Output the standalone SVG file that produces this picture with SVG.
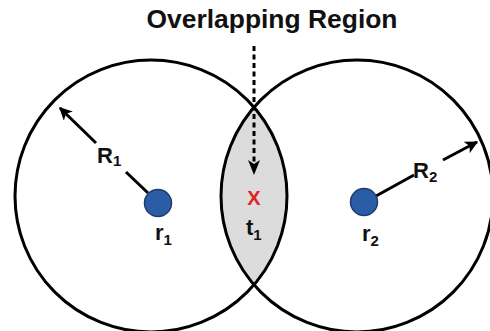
<svg xmlns="http://www.w3.org/2000/svg" width="490" height="331" viewBox="0 0 490 331">
  <style>
    .circ { fill: none; stroke: #000; stroke-width: 3; }
    .lbl { font-family: "Liberation Sans", Arial, sans-serif; font-weight: bold; font-size: 22px; fill: #111; }
    .sub { font-size: 15px; }
    .dot { fill: #2b5ca6; stroke: #1d3c6b; stroke-width: 1.5; }
    .ln { stroke: #000; stroke-width: 3; fill: none; }
  </style>
  <defs>
    <marker id="ah" viewBox="0 0 10 10" refX="9" refY="5" markerWidth="4.3" markerHeight="4.3" orient="auto" markerUnits="strokeWidth">
      <path d="M0,0 L10,5 L0,10 L2.5,5 Z" fill="#000"/>
    </marker>
  </defs>
  <rect width="490" height="331" fill="#fff"/>
  <g id="overlap">
    <path d="M254,107.2 A136,136 0 0 1 254,284.8 A136,136 0 0 1 254,107.2 Z" fill="#dcdcdc"/>
  </g>
  <g id="circle1"><circle class="circ" cx="151" cy="196" r="136"/></g>
  <g id="circle2"><circle class="circ" cx="357" cy="196" r="136"/></g>
  <g id="title"><text class="lbl" x="272" y="28" text-anchor="middle" style="font-size:25px" textLength="251" lengthAdjust="spacingAndGlyphs">Overlapping Region</text></g>
  <g id="connectors">
    <path class="ln" d="M254,46 L254,170" stroke-dasharray="5,3.5"/>
    <path d="M248,160 L254,175 L260,160 L254,164 Z" fill="#000"/>
    <path class="ln" d="M148,193 L126,172"/>
    <path class="ln" d="M96,143 L60,108" marker-end="url(#ah)"/>
    <path class="ln" d="M376,196 L414,175"/>
    <path class="ln" d="M443,160 L477,142" marker-end="url(#ah)"/>
  </g>
  <g id="r1"><circle class="dot" cx="158" cy="203" r="13.5"/>
    <text class="lbl" x="155" y="240">r<tspan class="sub" dy="5">1</tspan></text></g>
  <g id="r2"><circle class="dot" cx="364" cy="202" r="13.5"/>
    <text class="lbl" x="362" y="241">r<tspan class="sub" dy="5">2</tspan></text></g>
  <g id="R1label"><text class="lbl" x="97" y="163">R<tspan class="sub" dy="3">1</tspan></text></g>
  <g id="R2label"><text class="lbl" x="413" y="178">R<tspan class="sub" dy="4">2</tspan></text></g>
  <g id="t1"><text class="lbl" x="246" y="235">t<tspan class="sub" dy="5">1</tspan></text></g>
  <g id="x"><text class="lbl" x="254" y="205" text-anchor="middle" style="fill:#e02424;font-size:20px">X</text></g>
</svg>
